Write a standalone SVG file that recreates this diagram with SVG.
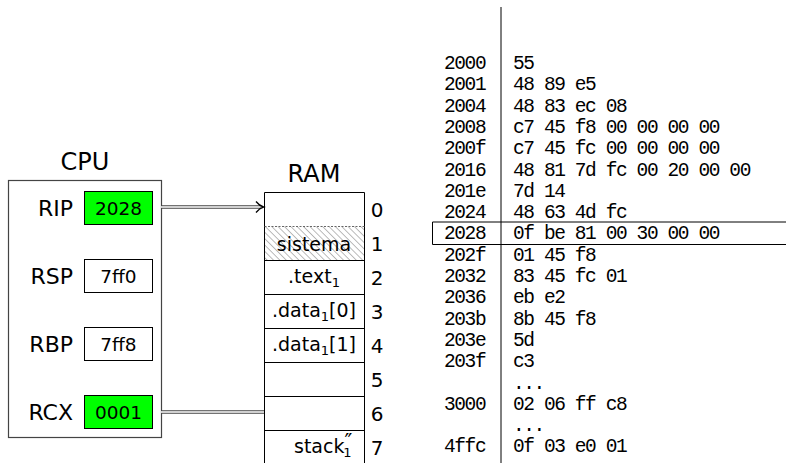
<svg xmlns="http://www.w3.org/2000/svg" width="786" height="463" viewBox="0 0 786 463">
<style>
.sans{font-family:"DejaVu Sans","Liberation Sans",sans-serif;fill:#000}
.title{font-size:24px;text-anchor:middle}
.reg{font-size:22px;text-anchor:end}
.val{font-size:18.5px;text-anchor:middle}
.cell{font-size:19px;text-anchor:middle}
.idx{font-size:20px;text-anchor:middle}
.mono{font-family:"Liberation Mono","DejaVu Sans Mono",monospace;font-size:19.5px;letter-spacing:-1.4px;fill:#000}
.box{fill:#fff;stroke:#000;stroke-width:1}
.green{fill:#00ff00;stroke:#000;stroke-width:1}
.line{stroke:#000;stroke-width:1;fill:none}
.dbl-out{stroke:#444;stroke-width:3.6;fill:none}
.dbl-in{stroke:#fff;stroke-width:1.6;fill:none}
</style>
<defs>
<pattern id="hatch" patternUnits="userSpaceOnUse" width="4.5" height="4.5" patternTransform="rotate(-45)">
<line x1="0" y1="0" x2="0" y2="4.5" stroke="#555" stroke-width="0.8"/>
</pattern>
</defs>
<rect width="786" height="463" fill="#fff"/>

<g id="cpu">
<text class="sans title" x="85" y="170">CPU</text>
<rect x="8.5" y="180.5" width="153" height="257" fill="#fff" stroke="#444" stroke-width="1.2"/>
</g>
<g id="rip">
<text class="sans reg" x="73" y="216">RIP</text>
<rect class="green" x="84.5" y="191.5" width="68" height="33"/>
<text class="sans val" x="118.5" y="215">2028</text>
</g>
<g id="rsp">
<text class="sans reg" x="73" y="284">RSP</text>
<rect class="box" x="84.5" y="259.5" width="68" height="33"/>
<text class="sans val" x="118.5" y="283">7ff0</text>
</g>
<g id="rbp">
<text class="sans reg" x="73" y="352">RBP</text>
<rect class="box" x="84.5" y="327.5" width="68" height="33"/>
<text class="sans val" x="118.5" y="351">7ff8</text>
</g>
<g id="rcx">
<text class="sans reg" x="73" y="420">RCX</text>
<rect class="green" x="84.5" y="395.5" width="68" height="33"/>
<text class="sans val" x="118.5" y="419">0001</text>
</g>

<g id="ram">
<text class="sans title" x="314" y="182">RAM</text>
<rect x="264" y="226.5" width="101" height="34" fill="url(#hatch)"/>
<path class="line" d="M264.5,470 V192.5 H364.5 V470"/>
<line x1="264.5" y1="226.5" x2="364.5" y2="226.5" stroke="#666" stroke-width="1" stroke-dasharray="2,1.5"/>
<path class="line" d="M264.5,260.5 H364.5 M264.5,294.5 H364.5 M264.5,328.5 H364.5 M264.5,362.5 H364.5 M264.5,396.5 H364.5 M264.5,430.5 H364.5"/>
<text class="sans cell" x="314" y="251">sistema</text>
<text class="sans cell" x="314" y="283">.text<tspan font-size="13" dy="4">1</tspan></text>
<text class="sans cell" x="314" y="317">.data<tspan font-size="13" dy="4">1</tspan><tspan dy="-4">[0]</tspan></text>
<text class="sans cell" x="314" y="351">.data<tspan font-size="13" dy="4">1</tspan><tspan dy="-4">[1]</tspan></text>
<text class="sans" font-size="19" x="294" y="453">stack<tspan font-size="21" dy="-4">″</tspan><tspan font-size="13" dx="-9" dy="8">1</tspan></text>
<text class="sans idx" x="377" y="217">0</text>
<text class="sans idx" x="377" y="251">1</text>
<text class="sans idx" x="377" y="285">2</text>
<text class="sans idx" x="377" y="319">3</text>
<text class="sans idx" x="377" y="353">4</text>
<text class="sans idx" x="377" y="387">5</text>
<text class="sans idx" x="377" y="421">6</text>
<text class="sans idx" x="377" y="455">7</text>
</g>

<g id="memory">
<line class="line" x1="501" y1="7" x2="501" y2="463"/>
<path class="line" d="M790,222 H432.5 V244.5 H790"/>
<text class="mono" x="444" y="69">2000</text><text class="mono" x="513" y="69">55</text>
<text class="mono" x="444" y="90.3">2001</text><text class="mono" x="513" y="90.3">48 89 e5</text>
<text class="mono" x="444" y="111.6">2004</text><text class="mono" x="513" y="111.6">48 83 ec 08</text>
<text class="mono" x="444" y="132.9">2008</text><text class="mono" x="513" y="132.9">c7 45 f8 00 00 00 00</text>
<text class="mono" x="444" y="154.2">200f</text><text class="mono" x="513" y="154.2">c7 45 fc 00 00 00 00</text>
<text class="mono" x="444" y="175.5">2016</text><text class="mono" x="513" y="175.5">48 81 7d fc 00 20 00 00</text>
<text class="mono" x="444" y="196.8">201e</text><text class="mono" x="513" y="196.8">7d 14</text>
<text class="mono" x="444" y="218.1">2024</text><text class="mono" x="513" y="218.1">48 63 4d fc</text>
<text class="mono" x="444" y="239.4">2028</text><text class="mono" x="513" y="239.4">0f be 81 00 30 00 00</text>
<text class="mono" x="444" y="260.7">202f</text><text class="mono" x="513" y="260.7">01 45 f8</text>
<text class="mono" x="444" y="282">2032</text><text class="mono" x="513" y="282">83 45 fc 01</text>
<text class="mono" x="444" y="303.3">2036</text><text class="mono" x="513" y="303.3">eb e2</text>
<text class="mono" x="444" y="324.6">203b</text><text class="mono" x="513" y="324.6">8b 45 f8</text>
<text class="mono" x="444" y="345.9">203e</text><text class="mono" x="513" y="345.9">5d</text>
<text class="mono" x="444" y="367.2">203f</text><text class="mono" x="513" y="367.2">c3</text>
<text class="mono" x="513" y="388.5">...</text>
<text class="mono" x="444" y="409.8">3000</text><text class="mono" x="513" y="409.8">02 06 ff c8</text>
<text class="mono" x="513" y="431.1">...</text>
<text class="mono" x="444" y="452.4">4ffc</text><text class="mono" x="513" y="452.4">0f 03 e0 01</text>
</g>

<g id="connectors">
<path class="dbl-out" d="M161,207 H261"/>
<path class="dbl-in" d="M161,207 H261"/>
<path d="M256,201.5 C258,204 261,206.3 263.5,207 C261,207.7 258,210 256,212.5" fill="none" stroke="#000" stroke-width="1.3"/>
<path class="dbl-out" d="M161,412 H264"/>
<path class="dbl-in" d="M161,412 H264"/>
</g>
</svg>
